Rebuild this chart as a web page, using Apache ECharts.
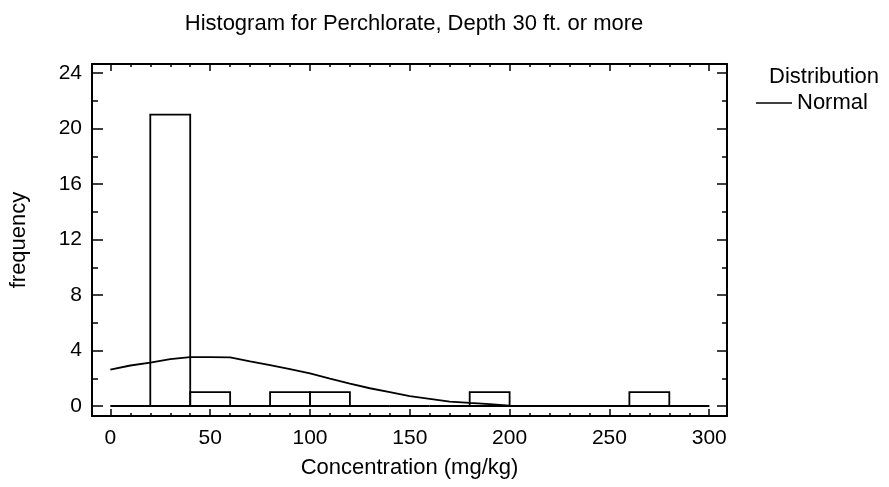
<!DOCTYPE html>
<html>
<head>
<meta charset="utf-8">
<script src="https://cdn.jsdelivr.net/npm/echarts@6/dist/echarts.min.js"></script>
<style>html,body{margin:0;padding:0;background:#fff}#c{width:889px;height:487px}</style>
</head>
<body>
<div id="c"></div>
<script>
// Histogram bins (lower edge, upper edge) and counts
const binStarts = [0, 20, 40, 60, 80, 100, 120, 140, 160, 180, 200, 220, 240, 260, 280];
const binEnds   = [20, 40, 60, 80, 100, 120, 140, 160, 180, 200, 220, 240, 260, 280, 300];
const counts    = [0, 21, 1, 0, 1, 1, 0, 0, 0, 1, 0, 0, 0, 1, 0];
// Fitted normal curve
const curveX = [0, 10, 20, 30, 40, 50, 60, 70, 80, 90, 100, 110, 120, 130, 140, 150, 160, 170, 180, 190, 200, 210, 220, 240, 260, 280, 300];
const curveY = [2.62, 2.92, 3.12, 3.38, 3.52, 3.53, 3.50, 3.22, 2.95, 2.65, 2.35, 1.98, 1.62, 1.28, 1.00, 0.72, 0.52, 0.32, 0.22, 0.14, 0.03, 0.01, 0, 0, 0, 0, 0];
// Tick values
const xMajor = [0, 50, 100, 150, 200, 250, 300];
const xMinor = [10, 20, 30, 40, 60, 70, 80, 90, 110, 120, 130, 140, 160, 170, 180, 190, 210, 220, 230, 240, 260, 270, 280, 290];
const yMajor = [0, 4, 8, 12, 16, 20, 24];
const yMinor = [2, 6, 10, 14, 18, 22];

const FONT = 'Liberation Sans, Arial, Helvetica, sans-serif';
const XMIN = -9.2, XMAX = 308.9, YMIN = -0.72, YMAX = 24.65;

function xAx(pos, ticks, len, showLine, labels) {
  return {
    type: 'value', position: pos, min: XMIN, max: XMAX,
    axisLine: {show: showLine, onZero: false, lineStyle: {color: '#000', width: 2}},
    axisTick: {show: true, inside: true, length: len, customValues: ticks, lineStyle: {color: '#000', width: 1.5}},
    axisLabel: labels ? {show: true, customValues: ticks, margin: 12, color: '#000', fontSize: 21, fontFamily: FONT} : {show: false},
    splitLine: {show: false}
  };
}
function yAx(pos, ticks, len, showLine, labels) {
  return {
    type: 'value', position: pos, min: YMIN, max: YMAX,
    axisLine: {show: showLine, onZero: false, lineStyle: {color: '#000', width: 2}},
    axisTick: {show: true, inside: true, length: len, customValues: ticks, lineStyle: {color: '#000', width: 1.5}},
    axisLabel: labels ? {show: true, customValues: ticks, margin: 10, color: '#000', fontSize: 21, fontFamily: FONT} : {show: false},
    splitLine: {show: false}
  };
}

const xAxes = [
  xAx('bottom', xMajor, 7, true, true),
  xAx('bottom', xMinor, 3, false, false),
  xAx('top', xMajor, 7, true, false),
  xAx('top', xMinor, 3, false, false)
];
xAxes[0].name = 'Concentration (mg/kg)';
xAxes[0].nameLocation = 'middle';
xAxes[0].nameGap = 41;
xAxes[0].nameTextStyle = {color: '#000', fontSize: 22, fontFamily: FONT};

const yAxes = [
  yAx('left', yMajor, 11, true, true),
  yAx('left', yMinor, 6, false, false),
  yAx('right', yMajor, 10, true, false),
  yAx('right', yMinor, 5, false, false)
];
yAxes[0].name = 'frequency';
yAxes[0].nameLocation = 'middle';
yAxes[0].nameGap = 62;
yAxes[0].nameTextStyle = {color: '#000', fontSize: 22, fontFamily: FONT};

const barData = binStarts.map((s, i) => [s, binEnds[i], counts[i]]);
const lineData = curveX.map((x, i) => [x, curveY[i]]);

const chart = echarts.init(document.getElementById('c'));
chart.setOption({
  animation: false,
  backgroundColor: '#fff',
  title: {
    text: 'Histogram for Perchlorate, Depth 30 ft. or more',
    left: 409, top: 8, textAlign: 'center',
    textStyle: {color: '#000', fontSize: 22, fontWeight: 'normal', fontFamily: FONT}
  },
  grid: {left: 91, right: 162, top: 64, bottom: 71, containLabel: false},
  xAxis: xAxes,
  yAxis: yAxes,
  legend: {
    data: ['Normal'],
    left: 751, top: 87,
    icon: 'rect', itemWidth: 36, itemHeight: 1.5, itemGap: 6,
    textStyle: {color: '#000', fontSize: 22, fontFamily: FONT}
  },
  graphic: [{
    type: 'text', left: 769, top: 66,
    style: {text: 'Distribution', fill: '#000', font: '22px ' + FONT}
  }],
  series: [
    {
      type: 'custom', name: 'Histogram', xAxisIndex: 0, yAxisIndex: 0,
      data: barData,
      encode: {x: [0, 1], y: 2},
      renderItem: function (params, api) {
        const p0 = api.coord([api.value(0), api.value(2)]);
        const p1 = api.coord([api.value(1), 0]);
        return {
          type: 'rect',
          shape: {x: p0[0], y: p0[1], width: p1[0] - p0[0], height: p1[1] - p0[1]},
          style: {fill: 'none', stroke: '#000', lineWidth: 1.8}
        };
      }
    },
    {
      type: 'line', name: 'Normal', xAxisIndex: 0, yAxisIndex: 0,
      data: lineData, symbol: 'none', smooth: false,
      lineStyle: {color: '#000', width: 1.8},
      itemStyle: {color: '#000'}
    }
  ]
});
</script>
</body>
</html>
